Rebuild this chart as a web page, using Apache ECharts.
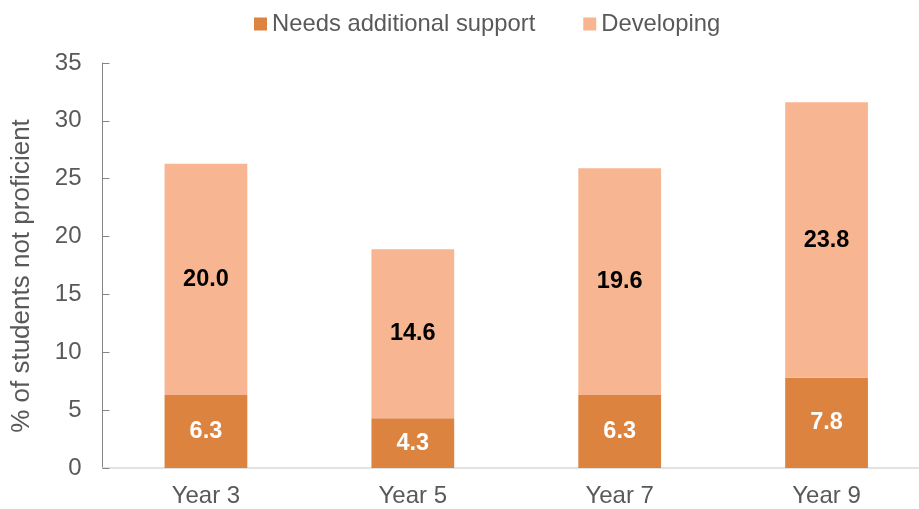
<!DOCTYPE html>
<html><head><meta charset="utf-8">
<script src="https://cdn.jsdelivr.net/npm/echarts@6/dist/echarts.min.js"></script>
<style>html,body{margin:0;padding:0;background:#fff;overflow:hidden;width:919px;height:509px}#c{width:930px;height:509px}</style>
</head><body><div id="c"></div>
<script>
const categories = ['Year 3', 'Year 5', 'Year 7', 'Year 9'];
const needsSupport = [6.3, 4.3, 6.3, 7.8];
const developing = [20.0, 14.6, 19.6, 23.8];
const yTicks = [0, 5, 10, 15, 20, 25, 30, 35];

const FONT = 'Liberation Sans, Arial, sans-serif';
const chart = echarts.init(document.getElementById('c'), null, {renderer: 'canvas'});
chart.setOption({
  animation: false,
  textStyle: {fontFamily: FONT},
  legend: {
    top: 7, left: 249,
    itemWidth: 13, itemHeight: 13, itemGap: 48,
    icon: 'rect',
    textStyle: {fontSize: 23.8, color: '#595959', fontFamily: FONT},
    data: ['Needs additional support', 'Developing']
  },
  grid: {left: 102.5, right: 0, top: 63, bottom: 41, containLabel: false},
  xAxis: {
    type: 'category', data: categories,
    axisLine: {lineStyle: {color: '#d9d9d9', width: 1.5}},
    axisTick: {show: false},
    axisLabel: {fontSize: 24, color: '#595959', margin: 16, fontFamily: FONT}
  },
  yAxis: {
    type: 'value', min: yTicks[0], max: yTicks[yTicks.length - 1], interval: 5,
    splitLine: {show: false},
    axisLine: {show: true, lineStyle: {color: '#868686', width: 1}},
    axisTick: {show: true, inside: true, length: 7, lineStyle: {color: '#868686'}},
    axisLabel: {fontSize: 24, color: '#595959', margin: 21, fontFamily: FONT}
  },
  graphic: [{
    type: 'text',
    x: 22, y: 276, rotation: Math.PI / 2,
    style: {text: '% of students not proficient', fontSize: 26, fill: '#595959',
      fontFamily: FONT, align: 'center', verticalAlign: 'middle'}
  }],
  series: [{
    name: 'Needs additional support', type: 'bar', stack: 'a', barWidth: '40%',
    data: needsSupport,
    itemStyle: {color: '#DB833F'},
    label: {show: true, position: 'inside', formatter: p => p.value.toFixed(1),
      color: '#ffffff', fontWeight: 'bold', fontSize: 23.5, fontFamily: FONT}
  }, {
    name: 'Developing', type: 'bar', stack: 'a', barWidth: '40%',
    data: developing,
    itemStyle: {color: '#F8B591'},
    label: {show: true, position: 'inside', formatter: p => p.value.toFixed(1),
      color: '#000000', fontWeight: 'bold', fontSize: 23.5, fontFamily: FONT}
  }]
});
</script></body></html>
